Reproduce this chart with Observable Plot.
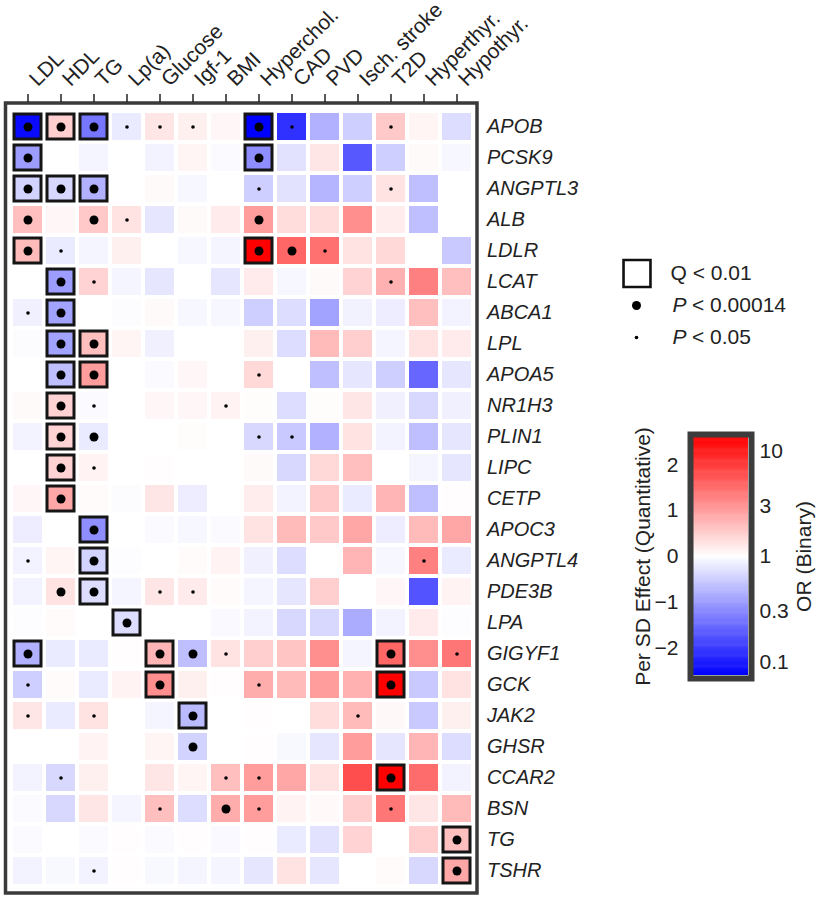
<!DOCTYPE html>
<html><head><meta charset="utf-8">
<script src="https://cdn.jsdelivr.net/npm/d3@7"></script>
<script src="https://cdn.jsdelivr.net/npm/@observablehq/plot@0.6"></script>
<style>
body{margin:0;background:#fff;font-family:Arial,"Liberation Sans",sans-serif;}
#wrap{position:relative;width:821px;height:900px;overflow:hidden;}
#wrap > *{position:absolute;}
</style></head><body><div id="wrap"></div>
<script>
const traits = ["LDL","HDL","TG","Lp(a)","Glucose","Igf-1","BMI","Hyperchol.","CAD","PVD","Isch. stroke","T2D","Hyperthyr.","Hypothyr."];
const genes = ["APOB","PCSK9","ANGPTL3","ALB","LDLR","LCAT","ABCA1","LPL","APOA5","NR1H3","PLIN1","LIPC","CETP","APOC3","ANGPTL4","PDE3B","LPA","GIGYF1","GCK","JAK2","GHSR","CCAR2","BSN","TG","TSHR"];
// effect per SD (quantitative) or ln(OR) (binary), one row per gene, columns in trait order
const effects = [
  [-2.5, 0.5, -1.4, -0.2, 0.25, 0.15, 0.08, -2.6, -2.1, -0.8, -0.5, 0.55, 0.1, -0.35],
  [-1.0, 0, -0.1, 0, -0.12, 0.1, -0.05, -1.15, -0.3, 0.25, -1.7, -0.5, 0.05, -0.08],
  [-0.45, -0.4, -0.8, 0, 0.05, -0.08, 0, -0.5, -0.3, -0.75, -0.5, 0.3, -0.65, 0],
  [0.65, 0.08, 0.55, 0.3, -0.25, 0.05, 0.2, 1.0, 0.35, 0.35, 1.15, 0.18, -0.65, 0],
  [0.7, -0.2, -0.1, 0.15, 0, -0.08, -0.1, 2.6, 1.55, 1.45, 0.3, 0.4, 0, -0.55],
  [0, -1.0, 0.45, -0.1, -0.25, 0, -0.25, 0.2, -0.08, 0.05, 0.45, 0.8, 1.3, 0.65],
  [-0.15, -0.95, 0, -0.03, 0.05, -0.08, -0.08, -0.5, -0.35, -0.95, -0.13, -0.18, 0.65, -0.12],
  [-0.03, -0.95, 0.65, 0.1, -0.15, 0, 0, 0.15, -0.35, 0.7, 0.5, -0.1, 0.3, 0.2],
  [0, -0.65, 1.0, 0, -0.05, 0.08, 0, 0.4, 0, -0.65, -0.25, -0.5, -1.55, -0.25],
  [0.05, 0.45, -0.05, 0, 0.08, 0.08, 0.12, 0.03, -0.35, 0.03, 0.25, -0.15, -0.4, -0.15],
  [-0.12, 0.45, -0.2, 0, 0, 0.03, 0, -0.4, -0.55, -0.8, 0.3, -0.12, -0.65, -0.25],
  [0, 0.45, 0.12, 0, 0.02, 0, 0, 0.05, -0.4, 0.4, 0.65, 0, -0.1, -0.25],
  [0.08, 0.9, 0.04, -0.03, 0.25, -0.18, 0, 0.18, -0.12, 0.55, -0.2, 0.75, -0.65, 0.02],
  [-0.18, 0, -1.15, 0, -0.05, -0.08, -0.05, 0.3, 0.7, 0.55, 0.9, -0.18, 0.7, 0.9],
  [-0.12, 0.1, -0.45, -0.02, 0, 0.04, 0.12, -0.15, -0.35, 0, 0.75, -0.08, 1.3, -0.2],
  [-0.12, 0.3, -0.35, -0.1, 0.25, 0.2, 0.04, -0.1, -0.25, 0.5, 0, 0.08, -1.75, 0.12],
  [-0.02, 0.04, 0, -0.35, 0, 0, -0.06, -0.12, -0.4, -0.4, -0.85, -0.12, 0.2, -0.02],
  [-0.8, -0.2, -0.2, 0.02, 0.75, -0.65, 0.3, 0.5, 0.6, 1.15, -0.1, 1.55, 1.15, 1.4],
  [-0.5, 0.04, -0.2, 0.12, 1.15, 0.15, 0.02, 0.85, 0.7, 1.0, 0.8, 2.6, -0.55, 0.3],
  [0.25, -0.2, 0.3, 0, -0.1, -0.7, 0, 0.02, 0, 0.35, 0.7, 0.07, -0.55, 0.15],
  [0, 0, 0.12, 0, 0.1, -0.45, 0, 0.02, -0.07, -0.25, 1.0, -0.25, 0.75, -0.35],
  [-0.12, -0.4, 0.15, 0, 0.25, 0.1, 0.65, 1.0, 0.9, 0.3, 1.8, 2.6, 1.5, -0.12],
  [-0.04, -0.4, 0.25, -0.1, 0.65, -0.35, 0.85, 1.0, 0.12, 0.06, 0.5, 1.4, 0.25, 0.7],
  [-0.04, 0, -0.04, 0.02, -0.05, 0.02, -0.06, 0.02, -0.2, -0.3, 0.45, 0, 0.5, 0.65],
  [-0.12, -0.07, -0.12, 0.02, -0.07, -0.1, -0.1, -0.25, 0.3, -0.25, 0, 0.04, -0.4, 0.9]
];
// significance: Q = Q<0.01 (box + big dot), B = P<0.00014 (big dot), s = P<0.05 (small dot), . = none
const signif = [
  "QQQsss.Qs..s..",
  "Q......Q......",
  "QQQ....s...s..",
  "B.Bs...B......",
  "Qs.....QBs....",
  ".Qs........s..",
  "sQ............",
  ".QQ...........",
  ".QQ....s......",
  ".Qs...s.......",
  ".QB....ss.....",
  ".Qs...........",
  ".Q............",
  "..Q...........",
  "s.Q.........s.",
  ".BQ.ss........",
  "...Q..........",
  "Q...QBs....Q.s",
  "s...Q..s...Q..",
  "s.s..Q....s...",
  ".....B........",
  ".s....ss...Q..",
  "....s.Bs...s..",
  ".............Q",
  "..s..........Q"
];
const legendItems = ["Q < 0.01", "P < 0.00014", "P < 0.05"];
const effectTicks = [-2, -1, 0, 1, 2];
const orTicks = [0.1, 0.3, 1, 3, 10];
const colorMax = 2.6;

const FONT = 'Arial, "Liberation Sans", sans-serif';
const colorOpts = {type: "linear", domain: [-colorMax, 0, colorMax], range: ["#0000ff", "#ffffff", "#ff0000"], interpolate: "rgb", clamp: true};

const data = genes.flatMap((g, i) => traits.map((t, j) => ({gene: g, trait: t, value: effects[i][j], sig: signif[i][j]})));

const wrap = document.getElementById("wrap");

const main = Plot.plot({
  width: 821, height: 900,
  marginLeft: 10.5, marginRight: 348.5, marginTop: 109, marginBottom: 12,
  x: {domain: traits, padding: 0, axis: null},
  y: {domain: genes, padding: 0, axis: null},
  color: colorOpts,
  style: {fontFamily: FONT, color: "#222", background: "transparent"},
  marks: [
    Plot.cell(data, {x: "trait", y: "gene", fill: "value", inset: 2}),
    Plot.cell(data.filter(d => d.sig === "Q"), {x: "trait", y: "gene", fill: "none", stroke: "#151515", strokeWidth: 3, inset: 3}),
    Plot.dot(data.filter(d => d.sig === "Q" || d.sig === "B"), {x: "trait", y: "gene", r: 4.5, fill: "#000"}),
    Plot.dot(data.filter(d => d.sig === "s"), {x: "trait", y: "gene", r: 1.8, fill: "#000"}),
    Plot.frame({stroke: "#3a3a3a", strokeWidth: 3.5, insetLeft: -5.5, insetRight: -4, insetTop: -6.5, insetBottom: -4.5}),
    Plot.axisX({anchor: "top", tickSize: 8, dy: -8, tickFormat: () => "", stroke: "#222", strokeWidth: 1.5, label: null}),
    Plot.axisX({anchor: "top", tickSize: 0, dx: 5, dy: -27, tickPadding: 0, tickRotate: -45, textAnchor: "start", lineAnchor: "middle", fontSize: 21, label: null}),
    Plot.axisY({anchor: "right", tickSize: 0, tickPadding: 14, fontStyle: "italic", fontSize: 20, label: null})
  ]
});
main.style.left = "0px"; main.style.top = "0px";
wrap.appendChild(main);

// significance legend
const pRows = legendItems.filter(d => d.startsWith("P"));
const sigLegend = Plot.plot({
  width: 221, height: 96, marginLeft: 0, marginRight: 0, marginTop: 0, marginBottom: 0,
  y: {type: "band", domain: legendItems, padding: 0, axis: null},
  style: {fontFamily: FONT, color: "#222", background: "transparent"},
  marks: [
    Plot.dot([legendItems[0]], {y: d => d, frameAnchor: "left", dx: 36.5, symbol: "square", r: 15.2, fill: "none", stroke: "#111", strokeWidth: 2.6}),
    Plot.dot([legendItems[1]], {y: d => d, frameAnchor: "left", dx: 36, r: 4.5, fill: "#000"}),
    Plot.dot([legendItems[2]], {y: d => d, frameAnchor: "left", dx: 36, r: 1.8, fill: "#000"}),
    Plot.text([legendItems[0]], {y: d => d, text: d => d, frameAnchor: "left", dx: 70, textAnchor: "start", fontSize: 21}),
    Plot.text(pRows, {y: d => d, text: d => d[0], frameAnchor: "left", dx: 72, textAnchor: "start", fontSize: 21, fontStyle: "italic"}),
    Plot.text(pRows, {y: d => d, text: d => d.slice(2), frameAnchor: "left", dx: 91.5, textAnchor: "start", fontSize: 21})
  ]
});
sigLegend.style.left = "600px"; sigLegend.style.top = "257px";
wrap.appendChild(sigLegend);

// colour bar
const step = 0.02;
const ramp = d3.range(-colorMax, colorMax, step);
const cbar = Plot.plot({
  width: 221, height: 280, marginLeft: 93, marginRight: 73, marginTop: 17, marginBottom: 25,
  y: {domain: [-colorMax, colorMax]},
  color: colorOpts,
  style: {fontFamily: FONT, color: "#222", background: "transparent"},
  marks: [
    Plot.rect(ramp, {y1: d => d, y2: d => Math.min(colorMax, d + step * 1.6), fill: d => d + step / 2}),
    Plot.frame({stroke: "#3c3c3c", strokeWidth: 6, inset: -3}),
    Plot.axisY(effectTicks, {anchor: "left", tickSize: 0, tickPadding: 15, fontSize: 21, label: "Per SD Effect (Quantitative)", labelAnchor: "center", labelArrow: "none", labelOffset: 58}),
    Plot.axisY(orTicks.map(Math.log), {anchor: "right", tickSize: 0, tickPadding: 11, fontSize: 21, tickFormat: (d, i) => String(orTicks[i]), label: "OR (Binary)", labelAnchor: "center", labelArrow: "none", labelOffset: 62})
  ]
});
cbar.style.left = "600px"; cbar.style.top = "420px";
wrap.appendChild(cbar);
</script>
</body></html>
